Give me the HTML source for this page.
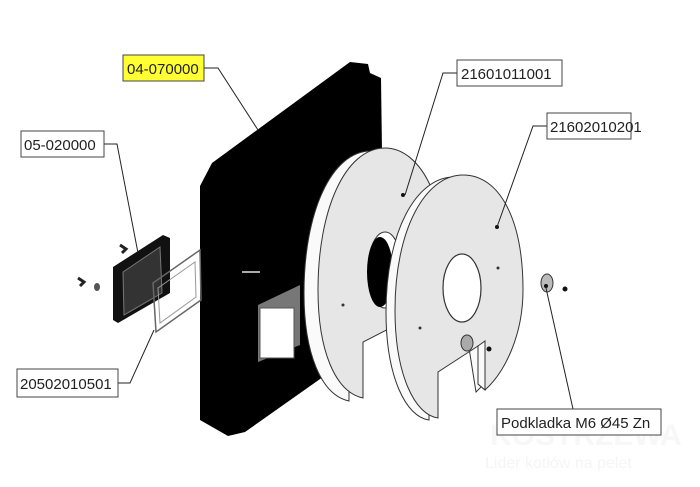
<!DOCTYPE html>
<html><head><meta charset="utf-8"><style>
html,body{margin:0;padding:0;background:#fff;}
svg{display:block;}
text{font-family:"Liberation Sans",sans-serif;font-size:15px;fill:#222;}
</style></head><body>
<svg width="700" height="487" viewBox="0 0 700 487" xmlns="http://www.w3.org/2000/svg">
<defs>
<path id="d1" d="M363,398 L363,342 L445,300 C452,200 420,148 385,148 C345,148 318,210 318,290 C318,350 335,392 363,398 Z"/>
<path id="d2" d="M438,418 L438,372 L478,346 L478,384 L485,390 C505,372 523,335 523,290 C523,220 500,175 463,175 C425,175 395,230 395,310 C395,375 415,415 438,418 Z"/>
<path id="d2b" d="M438,418 L438,372 L478,346 L485,390 C505,372 523,335 523,290 C523,220 500,175 463,175 C425,175 395,230 395,310 C395,375 415,415 438,418 Z"/>
</defs>
<!-- watermark -->
<text x="490" y="445" style="font-size:30px;font-weight:bold;fill:#f7f7f7">KOSTRZEWA</text>
<text x="485" y="468" style="font-size:16px;fill:#f5f5f5">Lider kotłów na pelet</text>

<!-- black panel -->
<polygon points="212,163 350,62 368,64 370,73 381,78 384,300 330,372 245,432 228,436 200,420 200,186" fill="#000"/>
<polygon points="258,305 300,285 300,345 258,362" fill="#777"/>
<rect x="260" y="308" width="34" height="50" fill="#fff" stroke="#555"/>
<rect x="242" y="271" width="18" height="2" fill="#aaa"/>

<!-- left small parts -->
<polygon points="113,267 163,235 170,238 170,293 118,323 113,320" fill="#111"/>
<polygon points="123,272 160,247 162,293 124,315" fill="#333" stroke="#777"/>
<polygon points="153,283 200,250 201,300 156,332" fill="none" stroke="#666" stroke-width="1.5"/>
<polygon points="158,288 195,262 196,297 160,323" fill="none" stroke="#999"/>
<path d="M120,245 l6,4 l-4,4" stroke="#222" stroke-width="3" fill="none"/>
<path d="M78,278 l6,4 l-4,4" stroke="#222" stroke-width="3" fill="none"/>
<ellipse cx="97" cy="287" rx="3" ry="4" fill="#555"/>

<!-- disc 1 -->
<use href="#d1" transform="translate(-14,3)" fill="#fafafa" stroke="#333"/>
<use href="#d1" fill="#e6e6e6" stroke="#333"/>
<ellipse cx="385" cy="270" rx="17" ry="38" fill="#fff" stroke="#333"/>
<ellipse cx="380" cy="272" rx="13" ry="35" fill="#000"/>
<circle cx="403" cy="195" r="2" fill="#111"/>
<circle cx="343" cy="305" r="1.5" fill="#333"/>

<!-- disc 2 -->
<use href="#d2b" transform="translate(-9,2)" fill="#fafafa" stroke="#333"/>
<use href="#d2" fill="#e6e6e6" stroke="#333"/>
<polygon points="478,346 485,341 485,390 478,384" fill="#fafafa" stroke="#333"/>
<ellipse cx="462" cy="288" rx="19" ry="34" fill="#fff" stroke="#333" stroke-width="1.2"/>
<circle cx="497" cy="227" r="2" fill="#111"/>
<circle cx="498" cy="268" r="1.5" fill="#333"/>
<circle cx="420" cy="328" r="1.5" fill="#333"/>
<ellipse cx="467" cy="343" rx="6" ry="8" fill="#aaa" stroke="#333"/>
<circle cx="489" cy="349" r="2.5" fill="#111"/>

<!-- washer -->
<ellipse cx="547" cy="283" rx="6" ry="9" fill="#bbb" stroke="#333"/>
<circle cx="546" cy="286" r="2" fill="#111"/>
<circle cx="565" cy="289" r="2.5" fill="#111"/>

<!-- leaders -->
<g stroke="#222" stroke-width="1" fill="none">
<polyline points="204,68 218,68 258,130"/>
<polyline points="457,73 443,73 405,195"/>
<polyline points="547,126 533,126 497,227"/>
<polyline points="104,144 117,144 138,253"/>
<polyline points="118,383 130,383 154,330"/>
<polyline points="573,409 546,288"/>
</g>

<!-- labels -->
<rect x="123" y="55" width="81" height="26" fill="#ffff33" stroke="#444"/>
<text x="127" y="74">04-070000</text>
<rect x="457" y="60" width="105" height="26" fill="#fff" stroke="#444"/>
<text x="461" y="79">21601011001</text>
<rect x="547" y="113" width="84" height="26" fill="#fff" stroke="#444"/>
<text x="550" y="132">21602010201</text>
<rect x="21" y="131" width="83" height="26" fill="#fff" stroke="#444"/>
<text x="24" y="150">05-020000</text>
<rect x="17" y="369" width="101" height="28" fill="#fff" stroke="#444"/>
<text x="20" y="389">20502010501</text>
<rect x="497" y="409" width="164" height="26" fill="#fff" stroke="#444"/>
<text x="501" y="428">Podkladka M6 Ø45 Zn</text>
</svg>
</body></html>
